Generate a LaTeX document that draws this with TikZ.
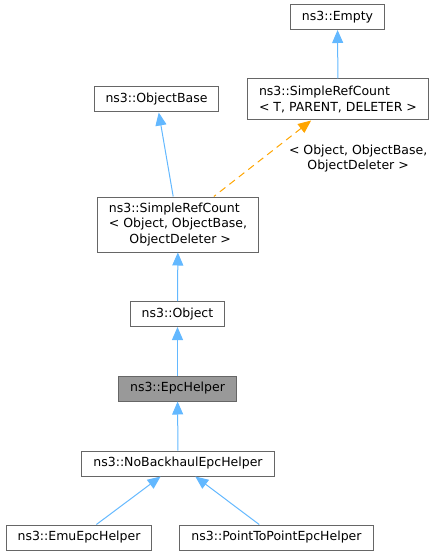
\documentclass[tikz,border=0pt]{standalone}
\usepackage{fontspec}
\setmainfont{DejaVu Sans}
\usetikzlibrary{graphs}
\usetikzlibrary{arrows.meta}
\usetikzlibrary{positioning}
\tikzset{>={Triangle[length=13pt,width=11pt]}}
\definecolor{boxgray}{HTML}{666666}
\definecolor{curgray}{HTML}{999999}
\definecolor{derivblue}{HTML}{63B8FF}
\definecolor{tmplorange}{HTML}{FFA500}
\tikzstyle{cls}=[
  rectangle,
  draw=boxgray,
  line width=1pt,
  fill=white,
  font=\fontsize{12.5}{15.5}\selectfont,
  inner xsep=11.5pt,
  inner ysep=0pt,
  minimum height=25pt
]
\tikzstyle{current}=[fill=curgray]
\tikzstyle{derive}=[draw=derivblue,line width=1pt]
\tikzstyle{instance}=[draw=tmplorange,line width=1pt,dash pattern=on 7pt off 5pt]

\begin{document}
\begin{tikzpicture}[x=1pt,y=-1pt]
    \useasboundingbox (0,0) rectangle (437,556);

    \node[cls] (empty) at (337.5,17) {ns3::Empty};
    \node[cls,align=left,minimum height=41pt] (srcT) at (338,99.5)
      {ns3::SimpleRefCount\\< T, PARENT, DELETER >};
    \node[cls] (objBase) at (156.5,99.5) {ns3::ObjectBase};
    \node[cls,align=left,minimum height=55pt] (srcObj) at (178,224.5)
      {ns3::SimpleRefCount\\< Object, ObjectBase,\\\hspace*{20.6pt}ObjectDeleter >};
    \node[cls] (object) at (177.5,314) {ns3::Object};
    \node[cls,current] (epc) at (177.5,388.5) {ns3::EpcHelper};
    \node[cls] (noBackhaul) at (178,463.5) {ns3::NoBackhaulEpcHelper};
    \node[cls] (emu) at (79,537.5) {ns3::EmuEpcHelper};
    \node[cls] (p2p) at (276.5,537.5) {ns3::PointToPointEpcHelper};

    \graph[use existing nodes, edges={derive}]{
      empty <- srcT;
      objBase <- srcObj;
      srcT <-[instance, edge node={node[anchor=west, xshift=22.7pt, align=center,
        font=\fontsize{12.5}{15.5}\selectfont]{< Object, ObjectBase,\\ObjectDeleter >}}] srcObj;
      srcObj <- object <- epc <- noBackhaul <- {emu, p2p}; % both helpers derive here
    };
  \end{tikzpicture}
\end{document}
